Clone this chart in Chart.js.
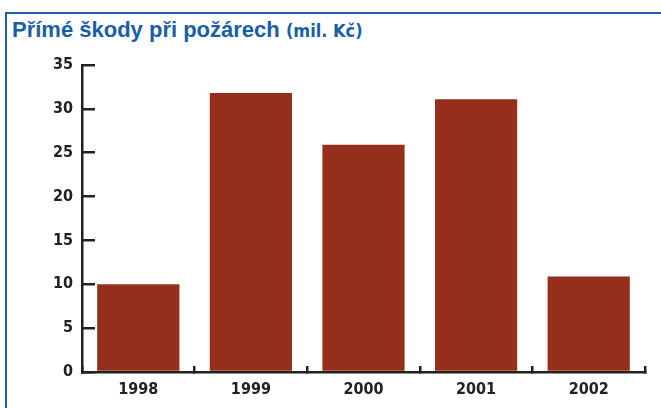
<!DOCTYPE html>
<html>
<head>
<meta charset="utf-8">
<script src="https://cdn.jsdelivr.net/npm/chart.js@4/dist/chart.umd.min.js"></script>
<style>
  html, body { margin: 0; padding: 0; background: #fff; }
  #wrap { position: relative; width: 661px; height: 408px; overflow: hidden; }
  #frame { position: absolute; left: 5px; top: 12px; width: 700px; height: 500px;
           border-top: 2px solid #1f5fa8; border-left: 2px solid #1f5fa8; }
  #title { position: absolute; left: 12px; top: 19px; color: #1a5ea6; white-space: nowrap; line-height: 1;
           font-family: "Liberation Sans", Arial, sans-serif; font-weight: bold; font-size: 22px; }
  #title span { font-family: "Liberation Sans Narrow", "DejaVu Sans Condensed", sans-serif; font-size: 18px; }
  canvas { position: absolute; left: 0; top: 0; }
</style>
</head>
<body>
<div id="wrap">
  <div id="frame"></div>
  <div id="title">Přímé škody při požárech <span>(mil. Kč)</span></div>
  <canvas id="c" width="661" height="408"></canvas>
</div>
<script>
'use strict';
const years = ['1998', '1999', '2000', '2001', '2002'];
const damages = [10.0, 31.8, 25.9, 31.1, 10.9];
const yTicks = [0, 5, 10, 15, 20, 25, 30, 35];

const axisFont = { family: '"Liberation Sans Narrow", "DejaVu Sans Condensed", sans-serif', size: 16, weight: 'bold' };

new Chart(document.getElementById('c'), {
    type: 'bar',
    data: {
        labels: years,
        datasets: [{
            data: damages,
            backgroundColor: '#952f1b',
            borderWidth: 0,
            barPercentage: 0.73,
            categoryPercentage: 1
        }]
    },
    options: {
        responsive: false,
        animation: false,
        layout: { padding: { left: 0, right: 16, top: 65, bottom: 0 } },
        plugins: { legend: { display: false }, tooltip: { enabled: false } },
        scales: {
            x: {
                grid: { drawOnChartArea: false, color: '#222', lineWidth: 2.5, tickLength: -6 },
                border: { color: '#222', width: 2.5 },
                ticks: { color: '#222', font: axisFont, padding: 14 },
                afterFit(s) { s.height = 36; }
            },
            y: {
                min: 0,
                max: 35,
                afterBuildTicks(s) { s.ticks = yTicks.map(v => ({ value: v })); },
                grid: { drawOnChartArea: false, color: '#222', lineWidth: 2.5, tickLength: -13 },
                border: { color: '#222', width: 2.5 },
                ticks: { color: '#222', font: axisFont, padding: 22 },
                afterFit(s) { s.width = 82; }
            }
        }
    }
});
</script>
</body>
</html>
